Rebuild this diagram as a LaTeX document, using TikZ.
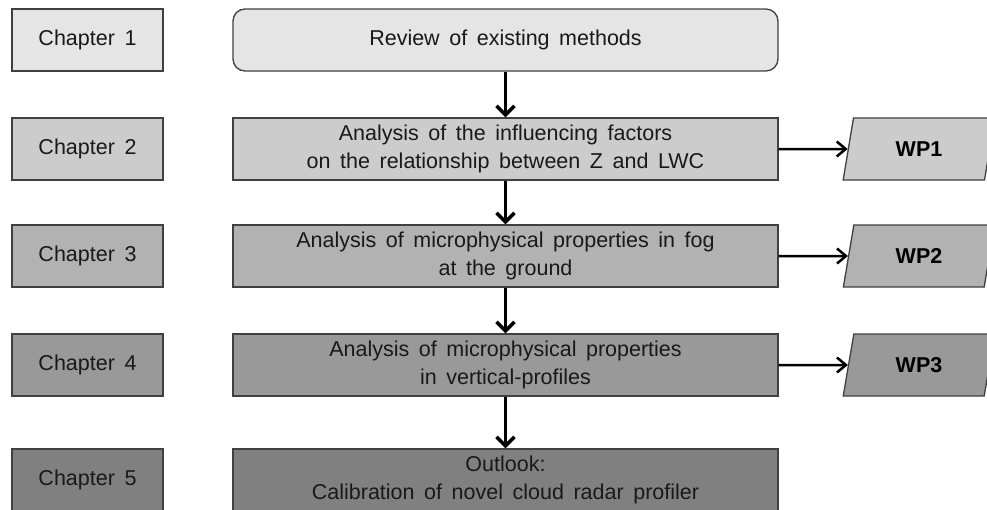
\documentclass[tikz,border=0pt]{standalone}
\usepackage{fontspec}
\setmainfont{Liberation Sans}[WordSpace=1.6]
\usetikzlibrary{shapes.geometric, arrows.meta}
\tikzset{>={Straight Barb[length=9pt,width=18pt]}}
\tikzset{
  chap/.style={draw=black!75, line width=1.3pt, minimum width=151pt,
    minimum height=62pt, inner sep=0pt, text=black!90,
    font=\fontsize{21.5}{27.5}\selectfont},
  task/.style={chap, minimum width=545pt, align=center},
  wp/.style={draw=black!75, line width=1.3pt, trapezium,
    trapezium left angle=76, trapezium right angle=104,
    trapezium stretches=true, minimum width=152pt, minimum height=62pt,
    inner sep=0pt, font=\fontsize{21.5}{27.5}\selectfont\bfseries},
  flow/.style={->, line width=3.5pt},
  side/.style={->, line width=2.5pt, >={Straight Barb[length=9pt,width=15pt]}}
}

\begin{document}
\begin{tikzpicture}[x=1pt, y=-1pt]
\useasboundingbox (0,0) rectangle (987,509);
% chapters
\node[chap, fill=black!10] (ch1) at (87.5,40) {Chapter 1};
\node[chap, fill=black!20] (ch2) at (87.5,149) {Chapter 2};
\node[chap, fill=black!30] (ch3) at (87.5,256) {Chapter 3};
\node[chap, fill=black!40] (ch4) at (87.5,365) {Chapter 4};
\node[chap, fill=black!50] (ch5) at (87.5,480) {Chapter 5};
% contents
\node[task, fill=black!10, rounded corners=12pt] (rev) at (505.5,40) {Review of existing methods};
\node[task, fill=black!20] (fac) at (505.5,149) {Analysis of the influencing factors\\on the relationship between Z and LWC};
\node[task, fill=black!30] (fog) at (505.5,256) {Analysis of microphysical properties in fog\\at the ground};
\node[task, fill=black!40] (vert) at (505.5,365) {Analysis of microphysical properties\\in vertical-profiles};
\node[task, fill=black!50] (out) at (505.5,480) {Outlook:\\Calibration of novel cloud radar profiler};
% work packages
\node[wp, fill=black!20] (wp1) at (919,149) {WP1};
\node[wp, fill=black!30] (wp2) at (919,256) {WP2};
\node[wp, fill=black!40] (wp3) at (919,365) {WP3};
% arrows
\draw[flow] (rev) -- (fac);
\draw[flow] (fac) -- (fog);
\draw[flow] (fog) -- (vert);
\draw[flow] (vert) -- (out);
\draw[side] (fac) -- (wp1);
\draw[side] (fog) -- (wp2);
\draw[side] (vert) -- (wp3);
\end{tikzpicture}
\end{document}
